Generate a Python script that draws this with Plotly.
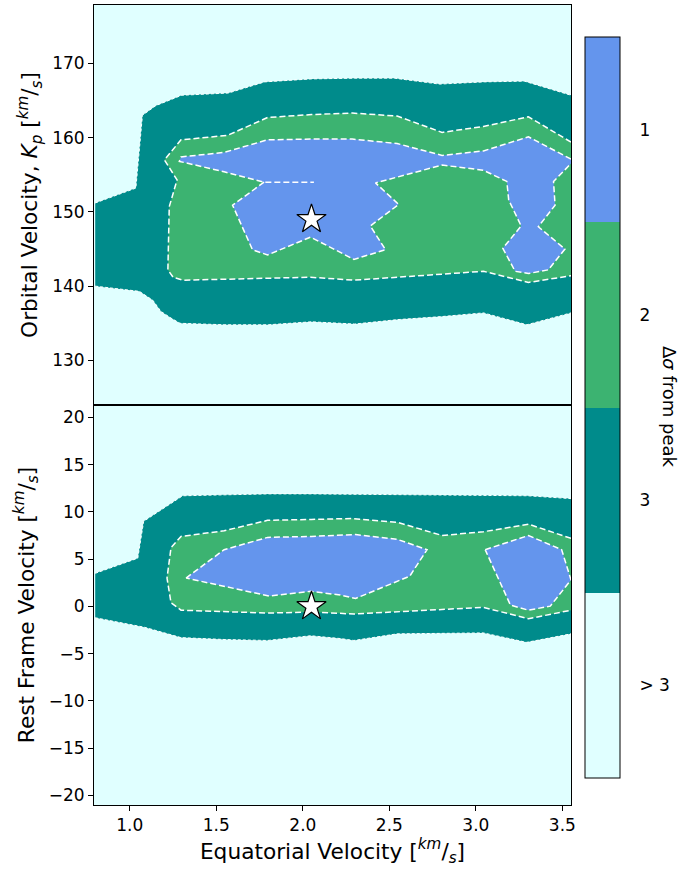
import plotly.graph_objects as go

# Δσ levels shown on the colour bar (top to bottom) and their fill colours
LEVEL_LABELS = ["1", "2", "3", "> 3"]
LEVEL_VALUES = [-1, -2, -3, -4]
C_1SIG = "#6495ED"
C_2SIG = "#3CB371"
C_3SIG = "#008B8B"
C_OUT = "#E0FFFF"

# ---------- Kp vs equatorial velocity (upper panel) ----------
KP_3SIG_UP_X = [0.8, 1.035, 1.073, 1.15, 1.3, 1.57, 1.78, 2.05, 2.3, 2.53, 2.79, 3.05, 3.28, 3.55]
KP_3SIG_UP_Y = [151.2, 153.2, 163.0, 164.3, 165.7, 166.0, 167.5, 167.9, 168.0, 168.0, 167.2, 167.5, 167.6, 165.7]
KP_3SIG_LO_X = [0.8, 1.055, 1.133, 1.18, 1.238, 1.29, 1.55, 1.8, 2.05, 2.3, 2.55, 2.8, 3.044, 3.295, 3.55]
KP_3SIG_LO_Y = [140.0, 139.3, 138.1, 136.6, 135.7, 135.0, 134.8, 134.8, 135.2, 134.9, 135.5, 135.9, 136.4, 134.8, 136.4]

KP_2SIG_X = [3.55, 3.304, 3.044, 2.805, 2.545, 2.286, 2.05, 1.796, 1.565, 1.296, 1.2, 1.273, 1.228,
             1.22, 1.25, 1.306, 2.045, 2.295, 3.044, 3.304, 3.55]
KP_2SIG_Y = [159.4, 162.8, 161.5, 160.7, 162.9, 163.3, 163.1, 162.7, 160.3, 159.7, 157.0, 154.3, 150.7,
             142.2, 141.2, 140.8, 141.2, 140.8, 142.0, 140.5, 141.4]

# 1σ outline; the contour runs out along a thin slit at 154 km/s and back again
KP_1SIG_X = [3.55, 3.304, 3.044, 2.805, 2.545, 2.286, 2.05, 1.796, 1.545, 1.296, 1.286, 1.545, 1.776,
             2.064, 1.776, 1.594, 1.709, 1.796, 2.045, 2.295, 2.478, 2.39, 2.554, 2.42, 2.805, 3.044,
             3.179, 3.19, 3.262, 3.156, 3.227, 3.304, 3.419, 3.515, 3.361, 3.458, 3.449, 3.55]
KP_1SIG_Y = [157.1, 160.1, 158.2, 157.6, 159.2, 159.8, 159.8, 159.7, 158.0, 157.4, 156.8, 155.4, 154.0,
             154.0, 154.0, 150.9, 144.9, 144.2, 146.6, 143.6, 144.9, 148.1, 151.0, 153.9, 156.3, 155.6,
             154.1, 151.6, 148.1, 145.1, 142.0, 141.7, 142.2, 145.0, 148.0, 150.9, 154.1, 156.5]
KP_1SIG_SLIT_END = 13  # index of the slit tip; the return leg is not stroked twice

KP_PEAK = (2.05, 149.0)

# ---------- rest-frame velocity vs equatorial velocity (lower panel) ----------
VS_3SIG_UP_X = [0.8, 1.046, 1.08, 1.14, 1.305, 1.55, 1.8, 2.05, 2.3, 2.55, 2.8, 3.05, 3.3, 3.55]
VS_3SIG_UP_Y = [3.5, 5.1, 9.0, 9.7, 11.7, 11.8, 11.9, 11.9, 11.85, 11.8, 11.76, 11.75, 11.7, 11.4]
VS_3SIG_LO_X = [0.8, 1.084, 1.296, 1.55, 1.796, 2.045, 2.218, 2.295, 2.545, 2.8, 3.044, 3.293, 3.55]
VS_3SIG_LO_Y = [-1.2, -2.2, -3.3, -3.5, -3.6, -3.1, -3.4, -3.6, -2.9, -2.85, -2.8, -3.8, -2.9]

VS_2SIG_X = [3.55, 3.304, 3.044, 2.805, 2.545, 2.286, 2.05, 1.796, 1.545, 1.296, 1.238, 1.215, 1.238,
             1.296, 1.796, 2.05, 2.295, 3.044, 3.304, 3.55]
VS_2SIG_Y = [7.2, 8.7, 7.9, 7.5, 8.9, 9.3, 9.2, 9.1, 8.0, 7.4, 6.2, 3.0, 0.4,
             -0.4, -0.7, -0.6, -0.8, -0.1, -1.3, -0.4]

VS_1SIG_A_X = [1.325, 1.545, 1.796, 2.05, 2.305, 2.545, 2.718, 2.618, 2.305, 2.218, 2.045, 1.805, 1.325]
VS_1SIG_A_Y = [3.0, 6.0, 7.3, 7.4, 7.6, 7.1, 6.0, 3.2, 0.84, 1.2, 1.6, 1.1, 3.0]
VS_1SIG_B_X = [3.054, 3.304, 3.496, 3.55, 3.43, 3.304, 3.2, 3.054]
VS_1SIG_B_Y = [6.0, 7.5, 6.0, 2.8, 0.03, -0.4, 0.14, 6.0]

VS_PEAK = (2.05, 0.0)

FONT = "DejaVu Sans"
TICK_SIZE = 17
TITLE_SIZE = 21.7
fig = go.Figure()


def fill(x, y, color, yaxis):
    fig.add_trace(go.Scatter(x=x, y=y, mode="lines", fill="toself", fillcolor=color,
                             line=dict(width=0), hoverinfo="skip", showlegend=False,
                             xaxis="x", yaxis=yaxis))


def edge(x, y, yaxis, fine=False):
    fig.add_trace(go.Scatter(x=x, y=y, mode="lines", hoverinfo="skip", showlegend=False,
                             connectgaps=False,
                             line=dict(color="white", width=1.0 if fine else 1.5,
                                       dash="3px,2px" if fine else "6px,3px"),
                             xaxis="x", yaxis=yaxis))


def peak(pt, yaxis):
    fig.add_trace(go.Scatter(x=[pt[0]], y=[pt[1]], mode="markers", showlegend=False,
                             marker=dict(symbol="star", size=22, color="white",
                                         line=dict(color="black", width=1.2)),
                             xaxis="x", yaxis=yaxis))


# stroke path for the upper 1σ outline: break the line after the slit tip
k = KP_1SIG_SLIT_END + 1
kp_1sig_edge_x = KP_1SIG_X[:k] + [None] + KP_1SIG_X[k:]
kp_1sig_edge_y = KP_1SIG_Y[:k] + [None] + KP_1SIG_Y[k:]

for ax, up_x, up_y, lo_x, lo_y, two_x, two_y, ones, one_edges, pk in [
    ("y", KP_3SIG_UP_X, KP_3SIG_UP_Y, KP_3SIG_LO_X, KP_3SIG_LO_Y, KP_2SIG_X, KP_2SIG_Y,
     [(KP_1SIG_X, KP_1SIG_Y)], [(kp_1sig_edge_x, kp_1sig_edge_y)], KP_PEAK),
    ("y2", VS_3SIG_UP_X, VS_3SIG_UP_Y, VS_3SIG_LO_X, VS_3SIG_LO_Y, VS_2SIG_X, VS_2SIG_Y,
     [(VS_1SIG_A_X, VS_1SIG_A_Y), (VS_1SIG_B_X, VS_1SIG_B_Y)],
     [(VS_1SIG_A_X, VS_1SIG_A_Y), (VS_1SIG_B_X, VS_1SIG_B_Y)], VS_PEAK),
]:
    fill(up_x + lo_x[::-1], up_y + lo_y[::-1], C_3SIG, ax)
    fill(two_x, two_y, C_2SIG, ax)
    for ox, oy in ones:
        fill(ox, oy, C_1SIG, ax)
    edge(up_x, up_y, ax, fine=True)
    edge(lo_x, lo_y, ax, fine=True)
    edge(two_x, two_y, ax)
    for ox, oy in one_edges:
        edge(ox, oy, ax)
    peak(pk, ax)

# discrete colour bar for the Δσ levels
fig.add_trace(go.Scatter(
    x=[None], y=[None], mode="markers", showlegend=False, hoverinfo="skip",
    marker=dict(
        color=LEVEL_VALUES, cmin=-4.5, cmax=-0.5,
        colorscale=[[0, C_OUT], [0.25, C_OUT], [0.25, C_3SIG], [0.5, C_3SIG],
                    [0.5, C_2SIG], [0.75, C_2SIG], [0.75, C_1SIG], [1, C_1SIG]],
        showscale=True,
        colorbar=dict(
            x=1.0294, xanchor="left", xpad=0, y=0.4969, yanchor="middle", ypad=0,
            len=741, lenmode="pixels", thickness=35, thicknessmode="pixels",
            outlinewidth=1, outlinecolor="black",
            tickvals=LEVEL_VALUES, ticktext=LEVEL_LABELS,
            ticks="outside", ticklen=16, tickcolor="rgba(0,0,0,0)",
            tickfont=dict(family=FONT, size=TICK_SIZE, color="black"),
        ),
    ),
    xaxis="x", yaxis="y",
))

axis_common = dict(showline=True, linecolor="black", linewidth=1, mirror=True,
                   showgrid=False, zeroline=False, ticks="outside", ticklen=5,
                   tickwidth=1, tickcolor="black",
                   tickfont=dict(family=FONT, size=TICK_SIZE, color="black"))

W, H = 682 - 94 - 111, 869 - 5 - 64

fig.update_layout(
    width=682, height=869,
    margin=dict(l=94, r=111, t=5, b=64),
    paper_bgcolor="white", plot_bgcolor=C_OUT,
    font=dict(family=FONT, color="black"),
    xaxis=dict(axis_common, range=[0.793, 3.55], anchor="y2", tickvals=[1.0, 1.5, 2.0, 2.5, 3.0, 3.5],
               ticktext=["1.0", "1.5", "2.0", "2.5", "3.0", "3.5"],
               title=dict(text="Equatorial Velocity [<sup><i>km</i></sup>/<sub><i>s</i></sub>]",
                          font=dict(family=FONT, size=TITLE_SIZE), standoff=6)),
    yaxis=dict(axis_common, domain=[0.5, 1.0], range=[124.0, 177.85], tickvals=[130, 140, 150, 160, 170],
               title=dict(text="Orbital Velocity, <i>K<sub>p</sub></i> [<sup><i>km</i></sup>/<sub><i>s</i></sub>]",
                          font=dict(family=FONT, size=TITLE_SIZE), standoff=8)),
    yaxis2=dict(axis_common, domain=[0.0, 0.5], range=[-21.0, 21.3],
                tickvals=[-20, -15, -10, -5, 0, 5, 10, 15, 20],
                ticktext=["\u221220", "\u221215", "\u221210", "\u22125", "0", "5", "10", "15", "20"],
                title=dict(text="Rest Frame Velocity [<sup><i>km</i></sup>/<sub><i>s</i></sub>]",
                           font=dict(family=FONT, size=TITLE_SIZE), standoff=8)),
    annotations=[dict(text="\u0394<i>\u03c3</i> from peak", textangle=90,
                      x=(669 - 94) / W, y=1 - (407 - 5) / H, xanchor="center", yanchor="middle",
                      xref="paper", yref="paper", showarrow=False,
                      font=dict(family=FONT, size=18, color="black"))],
)

# top panel shares the x axis but carries no tick marks of its own
fig.update_layout(xaxis2=dict(axis_common, matches="x", anchor="y", overlaying="x",
                              showticklabels=False, ticks=""))
for tr in fig.data:
    if tr.yaxis == "y":
        tr.xaxis = "x2"

fig.write_html("out.html")
